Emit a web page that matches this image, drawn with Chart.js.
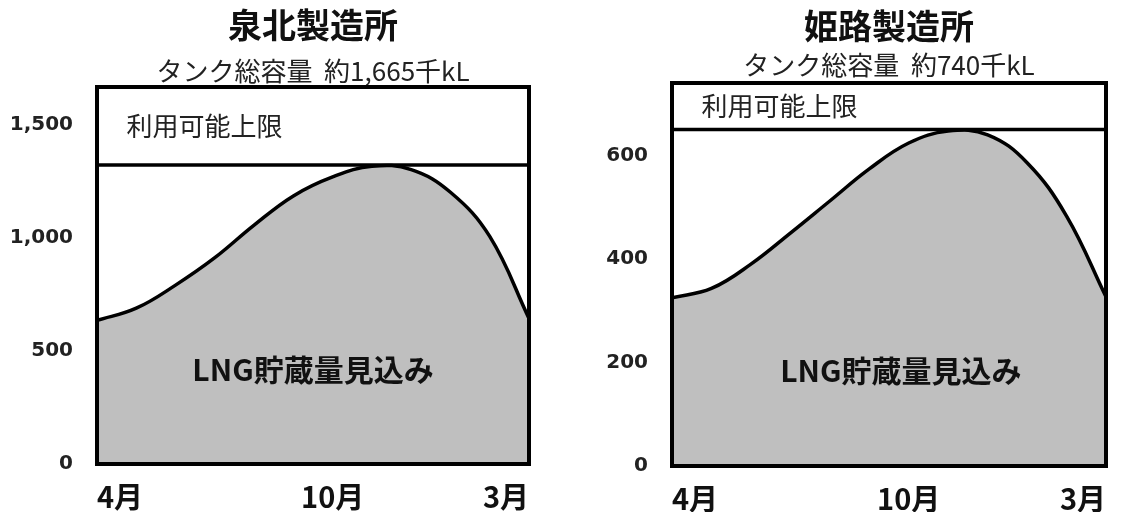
<!DOCTYPE html>
<html lang="ja">
<head>
<meta charset="utf-8">
<script src="https://cdn.jsdelivr.net/npm/chart.js@4"></script>
<style>
  body { margin: 0; background: #fff; width: 1123px; height: 512px; overflow: hidden; position: relative; }
  canvas { position: absolute; top: 0; }
  #senboku { left: 0; }
  #himeji { left: 560px; }
</style>
</head>
<body>
<canvas id="senboku" width="560" height="512"></canvas>
<canvas id="himeji" width="563" height="512"></canvas>
<script>
// ====== DATA ======
const months = ["4月", "5月", "6月", "7月", "8月", "9月", "10月", "11月", "12月", "1月", "2月", "3月"];
const xTickIdx = [0, 6, 11];

// 泉北製造所 (千kL)
const senbokuStock = [634, 688, 790, 911, 1055, 1184, 1268, 1315, 1300, 1200, 1005, 643];
const senbokuLimit = 1320;
const senbokuCapacity = 1665;
const senbokuTicks = [0, 500, 1000, 1500];

// 姫路製造所 (千kL)
const himejiStock = [325, 343, 390, 450, 512, 574, 624, 647, 640, 586, 483, 327];
const himejiLimit = 650;
const himejiCapacity = 740;
const himejiTicks = [0, 200, 400, 600];

const limitText = "利用可能上限";
const stockText = "LNG貯蔵量見込み";

// ====== PLUGINS ======
const framePlugin = {
  id: "frame",
  afterDatasetsDraw(chart) {
    const { left, top, right, bottom } = chart.chartArea;
    const ctx = chart.ctx;
    ctx.save();
    ctx.strokeStyle = "#000";
    ctx.lineWidth = 4;
    ctx.strokeRect(left, top, right - left, bottom - top);
    ctx.restore();
  }
};

const labelPlugin = {
  id: "labels",
  afterDatasetsDraw(chart, args, opts) {
    const x = chart.scales.x, y = chart.scales.y;
    const ctx = chart.ctx;
    ctx.save();
    ctx.fillStyle = "#222";
    ctx.textBaseline = "middle";
    ctx.font = "26px 'Noto Sans CJK JP'";
    ctx.textAlign = "left";
    ctx.fillText(limitText, x.getPixelForValue(0.75), y.getPixelForValue((opts.limit + opts.max) / 2));
    ctx.fillStyle = "#111";
    ctx.font = "bold 30px 'Noto Sans CJK JP'";
    ctx.textAlign = "center";
    ctx.fillText(stockText, x.getPixelForValue(opts.stockX), y.getPixelForValue(opts.max * 0.25));
    ctx.restore();
  }
};

// ====== CHART ======
function criarGrafico(id, o) {
  const pts = o.stock.map((v, i) => ({ x: i, y: v }));
  return new Chart(document.getElementById(id), {
    type: "line",
    data: {
      datasets: [
        {
          data: [{ x: 0, y: o.limit }, { x: months.length - 1, y: o.limit }],
          borderColor: "#000",
          borderWidth: 3.5,
          pointRadius: 0,
          fill: false
        },
        {
          data: pts,
          borderColor: "#000",
          borderWidth: 3.5,
          backgroundColor: "#bfbfbf",
          pointRadius: 0,
          tension: 0.4,
          fill: "origin"
        }
      ]
    },
    options: {
      responsive: false,
      animation: false,
      events: [],
      layout: { padding: { left: 0, right: o.padRight, top: 0, bottom: 0 } },
      plugins: {
        legend: { display: false },
        tooltip: { enabled: false },
        title: {
          display: true,
          text: o.title,
          fullSize: false,
          color: "#111",
          font: { family: "'Noto Sans CJK JP'", size: 34, weight: "bold" },
          padding: { top: o.titleTop, bottom: 0 }
        },
        subtitle: {
          display: true,
          text: o.subtitle,
          fullSize: false,
          color: "#222",
          font: { family: "'Noto Sans CJK JP'", size: 26 },
          padding: { top: o.subTop, bottom: o.subBottom }
        },
        labels: { limit: o.limit, max: o.max, stockX: o.stockX }
      },
      scales: {
        x: {
          type: "linear",
          min: 0,
          max: months.length - 1,
          grid: { display: false, drawTicks: false },
          border: { display: false },
          afterBuildTicks: s => { s.ticks = xTickIdx.map(v => ({ value: v })); },
          afterFit: s => { s.height = o.xHeight; },
          ticks: {
            align: "inner",
            autoSkip: false,
            maxRotation: 0,
            padding: 16,
            color: "#111",
            font: { family: "'Noto Sans CJK JP'", size: 29, weight: "bold" },
            callback: v => months[v]
          }
        },
        y: {
          min: 0,
          max: o.max,
          grid: { display: false, drawTicks: false },
          border: { display: false },
          afterBuildTicks: s => { s.ticks = o.ticks.map(v => ({ value: v })); },
          afterFit: s => { s.width = o.yWidth; },
          ticks: {
            padding: 24,
            color: "#222",
            font: { family: "'DejaVu Sans'", size: 20, weight: "bold" },
            callback: v => v.toLocaleString("en-US")
          }
        }
      }
    },
    plugins: [framePlugin, labelPlugin]
  });
}

criarGrafico("senboku", {
  title: "泉北製造所",
  subtitle: "タンク総容量  約1,665千kL",
  stock: senbokuStock, limit: senbokuLimit, max: senbokuCapacity, ticks: senbokuTicks,
  yWidth: 97, padRight: 31, xHeight: 48,
  titleTop: 5, subTop: 10, subBottom: 0, stockX: 5.5
});

criarGrafico("himeji", {
  title: "姫路製造所",
  subtitle: "タンク総容量  約740千kL",
  stock: himejiStock, limit: himejiLimit, max: himejiCapacity, ticks: himejiTicks,
  yWidth: 112, padRight: 17, xHeight: 46,
  titleTop: 6, subTop: 3, subBottom: 2, stockX: 5.8
});
</script>
</body>
</html>
